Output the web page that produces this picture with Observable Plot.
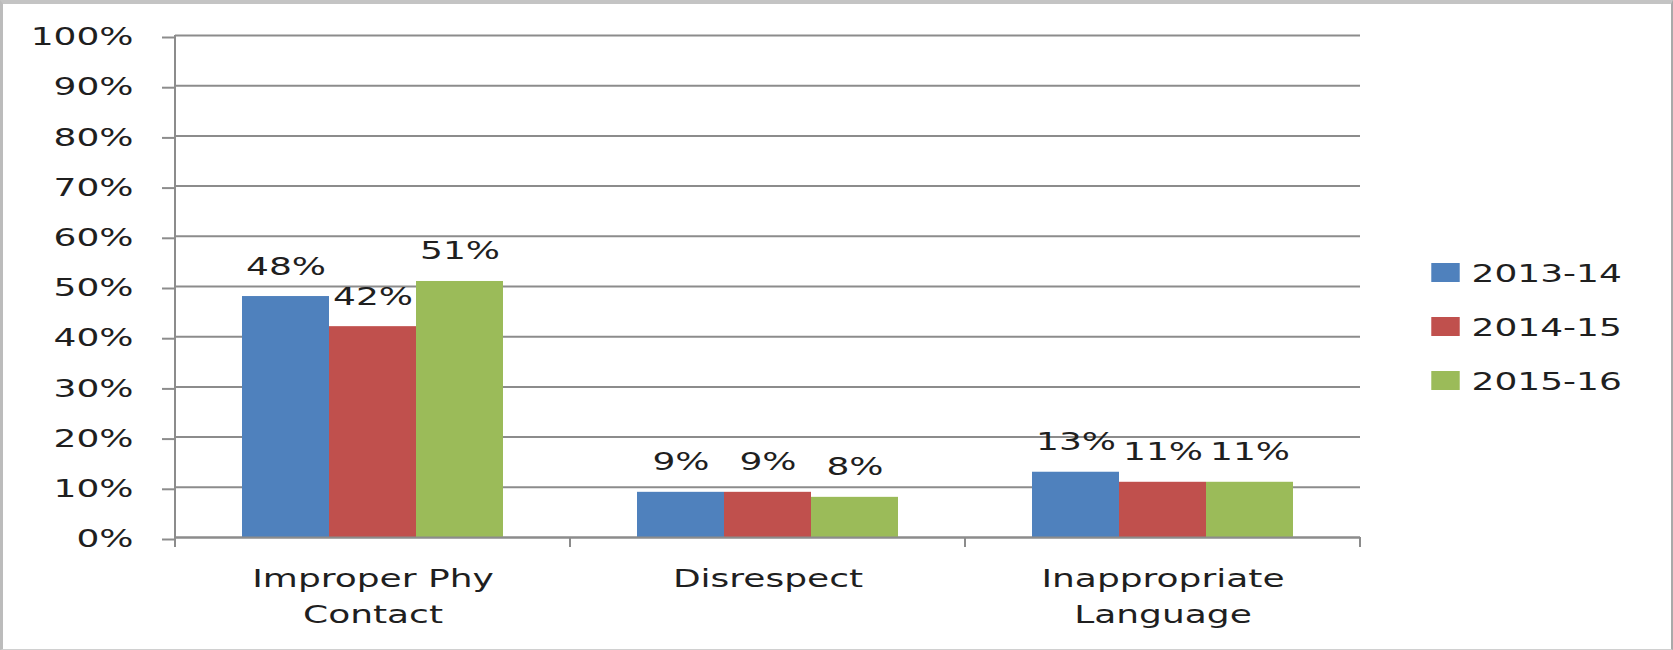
<!DOCTYPE html>
<html><head><meta charset="utf-8">
<script src="https://cdn.jsdelivr.net/npm/d3@7"></script>
<script src="https://cdn.jsdelivr.net/npm/@observablehq/plot@0.6"></script>
<style>
body{margin:0;background:#fff;}
#wrap{position:relative;width:1673px;height:650px;overflow:hidden;background:#fff;}
#border{position:absolute;left:0;top:0;width:1673px;height:650px;box-sizing:border-box;border-top:4px solid #c4c4c4;border-left:3px solid #bcbcbc;border-right:2px solid #a9a9a9;border-bottom:1px solid #d0d0d0;pointer-events:none}
#chart{position:absolute;left:0;top:0}
#legend{position:absolute;left:1431px;top:245px}
</style></head><body>
<div id="wrap"><div id="chart"></div><div id="legend"></div><div id="border"></div></div>
<script>
// ---- data ----
const categories = ["Improper Phy\nContact", "Disrespect", "Inappropriate\nLanguage"];
const years = ["2013-14", "2014-15", "2015-16"];
const values2013_14 = [0.48, 0.09, 0.13];
const values2014_15 = [0.42, 0.09, 0.11];
const values2015_16 = [0.51, 0.08, 0.11];
const yTicks = [0, 0.1, 0.2, 0.3, 0.4, 0.5, 0.6, 0.7, 0.8, 0.9, 1.0];
const colors = ["#4F81BD", "#C0504D", "#9BBB59"];

const seriesValues = [values2013_14, values2014_15, values2015_16];
const rows = [];
categories.forEach((c, i) => years.forEach((yr, j) => rows.push({category: c, year: yr, value: seriesValues[j][i]})));

const FONT = "DejaVu Sans";
const STRETCH = 1.5;
const GRID = "#8c8c8c";
const INK = "#1f1f1f";
const pct = d3.format(".0%");

const chart = Plot.plot({
  width: 1673, height: 650,
  marginLeft: 174, marginRight: 313, marginTop: 35, marginBottom: 113,
  style: {fontFamily: FONT, fontSize: "24px", color: INK, background: "transparent", overflow: "visible"},
  fx: {domain: categories, padding: 0, label: null},
  x: {domain: years, paddingInner: 0, paddingOuter: 0.77, axis: null},
  y: {domain: [0, 1], label: null},
  color: {domain: years, range: colors},
  marks: [
    Plot.gridY(yTicks, {stroke: GRID, strokeOpacity: 1, strokeWidth: 2}),
    Plot.barY(rows, {fx: "category", x: "year", y: "value", fill: "year"}),
    Plot.ruleY([0], {stroke: GRID, strokeWidth: 2}),
    Plot.axisY(yTicks, {tickFormat: pct, tickSize: 13, tickPadding: 29, stroke: GRID, strokeWidth: 2, fill: INK, dy: 2, label: null}),
    Plot.axisFx({anchor: "bottom", tickSize: 0, tickPadding: 24, lineHeight: 1.5, fill: INK, label: null}),
    Plot.text(rows, {fx: "category", x: "year", y: "value", text: d => pct(d.value), lineAnchor: "bottom", dy: -22, fill: INK})
  ]
});
document.getElementById("chart").appendChild(chart);

// value axis line and category boundary ticks, placed from the library's scales
const fxs = chart.scale("fx"), ys = chart.scale("y");
const bounds = categories.map(c => fxs.apply(c)).concat([fxs.apply(categories[categories.length - 1]) + fxs.bandwidth]);
const y0 = ys.apply(0), y1 = ys.apply(1);
const g = d3.select(chart).append("g").attr("stroke", GRID).attr("stroke-width", 2);
g.append("line").attr("x1", bounds[0]).attr("x2", bounds[0]).attr("y1", y1).attr("y2", y0 + 10);
g.selectAll("line.tick").data(bounds.slice(1)).join("line").attr("class", "tick")
  .attr("x1", d => d).attr("x2", d => d).attr("y1", y0).attr("y2", y0 + 10);

const legend = Plot.plot({
  width: 242, height: 162, margin: 0,
  style: {fontFamily: FONT, fontSize: "24px", color: INK, background: "transparent", overflow: "visible"},
  y: {type: "band", domain: years, padding: 0, axis: null},
  color: {domain: years, range: colors},
  marks: [
    Plot.dot(years, {y: d => d, fill: d => d, symbol: "square", r: 10.7, frameAnchor: "left", dx: 14}),
    Plot.text(years, {y: d => d, text: d => d, frameAnchor: "left", textAnchor: "start", dx: 40, dy: 2, fill: INK})
  ]
});
document.getElementById("legend").appendChild(legend);

// horizontally stretched lettering, as in the reference
function stretch(el) {
  const t = el.getAttribute("transform");
  if (t) el.setAttribute("transform", t + ` scale(${STRETCH},1)`);
  else {
    const x = +el.getAttribute("x") || 0, y = +el.getAttribute("y") || 0;
    el.removeAttribute("x"); el.removeAttribute("y");
    el.setAttribute("transform", `translate(${x},${y}) scale(${STRETCH},1)`);
  }
}
chart.querySelectorAll("text").forEach(stretch);
legend.querySelectorAll("text").forEach(stretch);
legend.querySelectorAll("path").forEach(stretch);
</script>
</body></html>
